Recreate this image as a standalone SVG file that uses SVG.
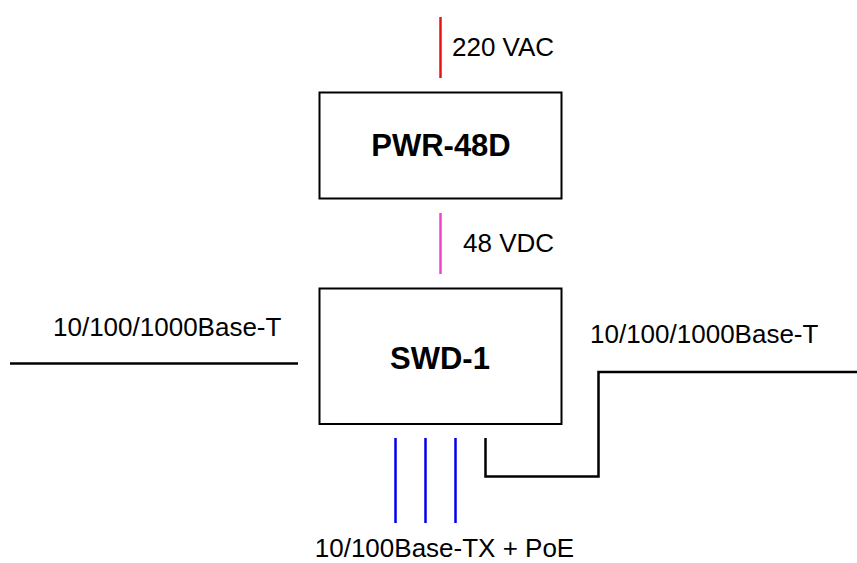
<svg xmlns="http://www.w3.org/2000/svg" width="857" height="563" viewBox="0 0 857 563">
<style>
.box{fill:#fff;stroke:#000;stroke-width:2}
.title{font-family:"Liberation Sans",Arial,sans-serif;font-weight:bold;font-size:31px;fill:#000;text-anchor:middle}
.lbl{font-family:"Liberation Sans",Arial,sans-serif;font-size:26px;fill:#000}
.w{fill:none;stroke-width:2.5}
</style>
<rect width="857" height="563" fill="#fff"/>
<g id="connectors">
<line class="w" x1="440.5" y1="17" x2="440.5" y2="78" stroke="#ee1111"/>
<line class="w" x1="440.5" y1="213" x2="440.5" y2="274" stroke="#ee44cc"/>
<line class="w" x1="10" y1="363.5" x2="298" y2="363.5" stroke="#000"/>
<polyline class="w" points="485.5,438 485.5,476.5 598.5,476.5 598.5,372 857,372" stroke="#000"/>
<line class="w" x1="395.5" y1="438" x2="395.5" y2="523" stroke="#0000ee"/>
<line class="w" x1="425.5" y1="438" x2="425.5" y2="523" stroke="#0000ee"/>
<line class="w" x1="455.5" y1="438" x2="455.5" y2="523" stroke="#0000ee"/>
</g>
<g id="labels">
<text class="lbl" x="452" y="56">220 VAC</text>
<text class="lbl" x="463" y="251.5">48 VDC</text>
<text class="lbl" x="53" y="336">10/100/1000Base-T</text>
<text class="lbl" x="590" y="343">10/100/1000Base-T</text>
<text class="lbl" x="444.5" y="557" text-anchor="middle">10/100Base-TX + PoE</text>
</g>
<g id="pwr-48d">
<rect class="box" x="319.5" y="92.5" width="242" height="106"/>
<text class="title" x="441" y="155.5">PWR-48D</text>
</g>
<g id="swd-1">
<rect class="box" x="319.5" y="288.5" width="242" height="135.5"/>
<text class="title" x="440" y="369">SWD-1</text>
</g>
</svg>
